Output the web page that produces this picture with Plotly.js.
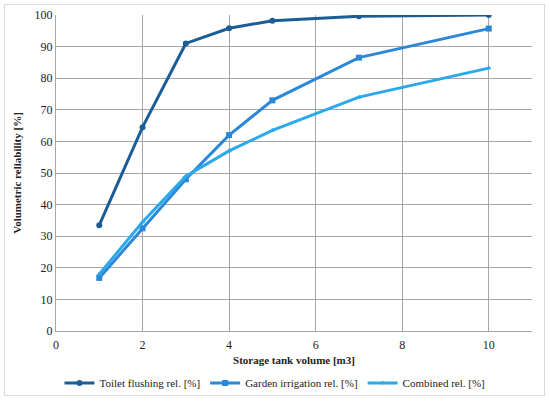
<!DOCTYPE html>
<html>
<head>
<meta charset="utf-8">
<script src="https://cdn.plot.ly/plotly-3.0.1.min.js"></script>
<style>
html,body{margin:0;padding:0;background:#fff;}
#frame{position:absolute;left:4px;top:4px;width:541px;height:392px;border:1px solid #d9d9d9;box-sizing:border-box;}
#chart{position:absolute;left:0;top:0;width:550px;height:401px;}
</style>
</head>
<body>
<div id="frame"></div>
<div id="chart"></div>
<script>
var volumes = [1, 2, 3, 4, 5, 7, 10];
var toiletRel = [33.5, 64.5, 91.0, 95.8, 98.2, 99.6, 100.0];
var gardenRel = [16.8, 32.5, 48.0, 62.0, 73.0, 86.5, 95.7];
var combinedRel = [18.0, 34.5, 49.0, 57.0, 63.5, 74.0, 83.2];
var seriesNames = ["Toilet flushing rel. [%]", "Garden irrigation rel. [%]", "Combined rel. [%]"];

var serifFamily = "Times New Roman";
var traces = [
  {x: volumes, y: toiletRel, name: seriesNames[0], mode: "lines+markers",
   line: {color: "#1b5d97", width: 3}, marker: {symbol: "circle", size: 6, color: "#1b5d97"}},
  {x: volumes, y: gardenRel, name: seriesNames[1], mode: "lines+markers",
   line: {color: "#2b88d8", width: 3}, marker: {symbol: "square", size: 6, color: "#2b88d8"}},
  {x: volumes, y: combinedRel, name: seriesNames[2], mode: "lines+markers",
   line: {color: "#2aa9ec", width: 3}, marker: {symbol: "triangle-up", size: 5, color: "#2aa9ec"}}
];
var layout = {
  width: 550, height: 401,
  paper_bgcolor: "rgba(0,0,0,0)", plot_bgcolor: "rgba(0,0,0,0)",
  margin: {l: 56, r: 18, t: 15, b: 70, autoexpand: false},
  font: {family: serifFamily, size: 12, color: "#222"},
  showlegend: true,
  legend: {orientation: "h", x: 0.5, xref: "container", xanchor: "center",
           y: 0.045, yref: "container", yanchor: "middle",
           font: {family: serifFamily, size: 11, color: "#222"}, tracegroupgap: 0},
  xaxis: {range: [0, 11], tickvals: [0,2,4,6,8,10],
          showgrid: true, gridcolor: "#a6a6a6", gridwidth: 1,
          showline: true, linecolor: "#a6a6a6", linewidth: 1, zeroline: false,
          ticks: "outside", ticklen: 3, tickcolor: "rgba(0,0,0,0)", automargin: false,
          title: {text: "<b>Storage tank volume [m3]</b>", font: {family: serifFamily, size: 11, color: "#222"}, standoff: 4},
          tickfont: {family: serifFamily, size: 12, color: "#222"}},
  yaxis: {range: [0, 100], dtick: 10, showgrid: true, gridcolor: "#a6a6a6", gridwidth: 1,
          showline: true, linecolor: "#a6a6a6", linewidth: 1, zeroline: false,
          ticks: "", ticklen: 0, automargin: false,
          title: {text: "<b>Volumetric reliability [%]</b>", font: {family: serifFamily, size: 11, color: "#222"}, standoff: 10},
          tickfont: {family: serifFamily, size: 12, color: "#222"}}
};
Plotly.newPlot("chart", traces, layout, {displayModeBar: false, staticPlot: true});
</script>
</body>
</html>
